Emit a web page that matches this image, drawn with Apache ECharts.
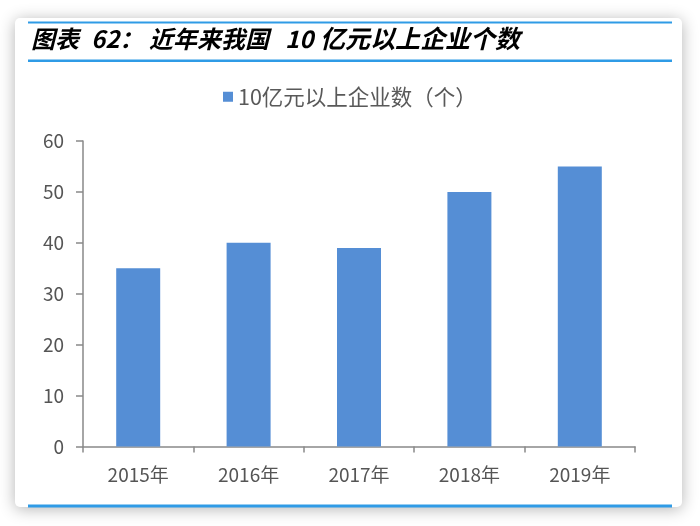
<!DOCTYPE html>
<html>
<head>
<meta charset="utf-8">
<script src="https://cdn.jsdelivr.net/npm/echarts@6/dist/echarts.min.js"></script>
<style>
html,body{margin:0;padding:0;background:#ffffff;}
#c{width:700px;height:526px;}
</style>
</head>
<body>
<div id="c"></div>
<script>
var categories = ['2015年', '2016年', '2017年', '2018年', '2019年'];
var companyCounts = [35, 40, 39, 50, 55];
var seriesName = '10亿元以上企业数（个）';
var titleParts = ['图表', '62：', '近年来我国', '10', '亿元以上企业个数'];
var yMin = 0, yMax = 60, yStep = 10;

var chart = echarts.init(document.getElementById('c'), null, {renderer: 'canvas'});
var lineColor = '#2F9BE6';
var titleFont = {fontFamily: 'Noto Sans CJK SC', fontWeight: 'bold', fontStyle: 'italic', fill: '#000'};
var titleX = [31, 91, 149, 285, 320];
var titleSize = [24, 24, 24, 24, 25];

var graphics = [
  {type: 'rect', z: -10, shape: {x: 15, y: 18, width: 667, height: 489, r: 5},
   style: {fill: '#ffffff', shadowBlur: 16, shadowColor: 'rgba(0,0,0,0.3)', shadowOffsetX: 0, shadowOffsetY: 2}},
  {type: 'rect', z: 5, shape: {x: 28, y: 21.5, width: 644, height: 2}, style: {fill: lineColor}},
  {type: 'rect', z: 5, shape: {x: 28, y: 59.5, width: 644, height: 2.5}, style: {fill: lineColor}},
  {type: 'rect', z: 5, shape: {x: 28, y: 504.5, width: 644, height: 3}, style: {fill: lineColor}}
];
titleParts.forEach(function (t, i) {
  graphics.push({
    type: 'text', z: 6, x: titleX[i], y: 38.5,
    style: Object.assign({text: t, fontSize: titleSize[i], textVerticalAlign: 'middle', verticalAlign: 'middle'}, titleFont)
  });
});

var option = {
  animation: false,
  backgroundColor: 'transparent',
  graphic: graphics,
  legend: {
    left: 218, top: 81,
    itemWidth: 10, itemHeight: 10, icon: 'rect',
    textStyle: {fontSize: 21.5, color: '#595959', fontFamily: 'Noto Sans CJK SC'},
    data: [seriesName]
  },
  grid: {left: 83, right: 65, top: 141, bottom: 79.5, containLabel: false},
  xAxis: {
    type: 'category',
    data: categories,
    axisLine: {lineStyle: {color: '#898989', width: 1.5}},
    axisTick: {show: true, length: 6, lineStyle: {color: '#898989', width: 1.5}},
    axisLabel: {fontSize: 19, color: '#555555', margin: 19, fontFamily: 'Noto Sans CJK SC'}
  },
  yAxis: {
    type: 'value',
    min: yMin, max: yMax, interval: yStep,
    splitLine: {show: false},
    axisLine: {show: true, lineStyle: {color: '#898989', width: 1.5}},
    axisTick: {show: true, length: 7, lineStyle: {color: '#898989', width: 1.5}},
    axisLabel: {fontSize: 19, color: '#555555', margin: 19, fontFamily: 'Noto Sans CJK SC'}
  },
  series: [{
    name: seriesName,
    type: 'bar',
    data: companyCounts,
    barWidth: 44,
    itemStyle: {color: '#558ED5'}
  }]
};
chart.setOption(option);
</script>
</body>
</html>
